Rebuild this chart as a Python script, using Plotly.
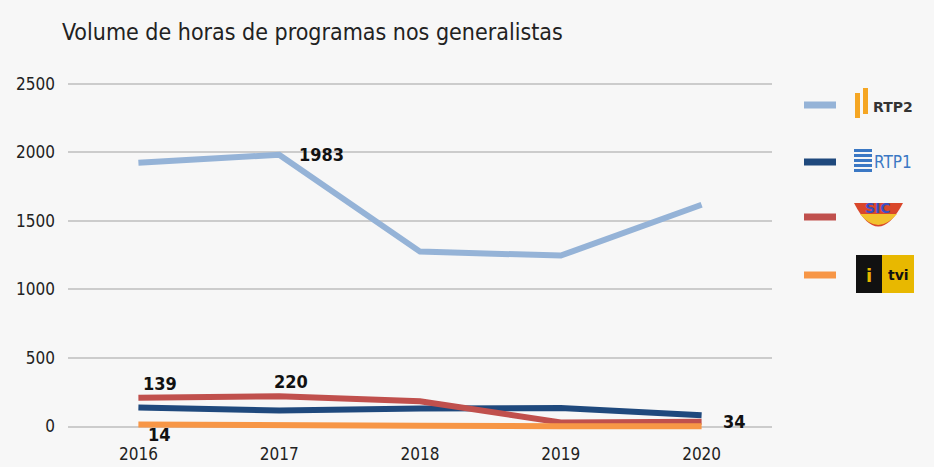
import plotly.graph_objects as go

years = [2016, 2017, 2018, 2019, 2020]
rtp2 = [1925, 1983, 1276, 1247, 1618]
rtp1 = [139, 117, 131, 136, 82]
sic = [210, 220, 184, 30, 34]
tvi = [14, 5, 5, 2, 2]

series_names = ["RTP2", "RTP1", "SIC", "TVI"]
series_values = [rtp2, rtp1, sic, tvi]
colors = ["#95b3d7", "#1f497d", "#c0504d", "#f79646"]

y_ticks = [0, 500, 1000, 1500, 2000, 2500]

FONT = "DejaVu Sans Condensed, Liberation Sans Narrow, Roboto, sans-serif"

W, H = 934, 467
L, R, T, B = 68, 162, 77, 35

fig = go.Figure()
for name, vals, c in zip(series_names, series_values, colors):
    fig.add_trace(go.Scatter(x=years, y=vals, mode="lines", name=name,
                             line=dict(color=c, width=6), showlegend=False,
                             hoverinfo="skip"))

# value labels
labels = [
    (2017, 1983, "1983", 42, 0),
    (2016, 139, "139", 22, 24),
    (2017, 220, "220", 12, 15),
    (2016, 14, "14", 21, -10),
    (2020, 34, "34", 33, 0),
]
for x, y, t, xs, ys in labels:
    fig.add_annotation(x=x, y=y, text="<b>" + t + "</b>", showarrow=False,
                       xshift=xs, yshift=ys,
                       font=dict(family=FONT, size=18, color="#111"))

fig.update_layout(
    width=W, height=H,
    paper_bgcolor="#f7f7f7", plot_bgcolor="#f7f7f7",
    margin=dict(l=L, r=R, t=T, b=B),
    title=dict(text="Volume de horas de programas nos generalistas",
               x=62 / W, xanchor="left", y=1 - 32 / H, yanchor="middle",
               font=dict(family=FONT, size=23, color="#222")),
    xaxis=dict(range=[2015.5, 2020.5], tickvals=years, showgrid=False,
               zeroline=False, showline=False, ticks="", automargin=False,
               ticklabelstandoff=10,
               tickfont=dict(family=FONT, size=17, color="#222")),
    yaxis=dict(range=[-40, 2550], tickvals=y_ticks, showgrid=True,
               gridcolor="#cccccc", gridwidth=1.5, zeroline=False,
               showline=False, ticks="", automargin=False, ticklabelstandoff=12,
               tickfont=dict(family=FONT, size=17, color="#222")),
)


def px_x(px):
    return (px - L) / (W - L - R)


def px_y(py):
    return (H - B - py) / (H - T - B)


leg_y = [105, 162, 217, 275]
for yy, c in zip(leg_y, colors):
    fig.add_shape(type="line", xref="paper", yref="paper",
                  x0=px_x(804), x1=px_x(836), y0=px_y(yy), y1=px_y(yy),
                  line=dict(color=c, width=7))

# logo-like entries
# RTP2
fig.add_shape(type="rect", xref="paper", yref="paper",
              x0=px_x(855), x1=px_x(860), y0=px_y(118), y1=px_y(93),
              fillcolor="#f5a623", line=dict(width=0))
fig.add_shape(type="rect", xref="paper", yref="paper",
              x0=px_x(863), x1=px_x(868), y0=px_y(114), y1=px_y(88),
              fillcolor="#f5a623", line=dict(width=0))
fig.add_annotation(xref="paper", yref="paper", x=px_x(871), y=px_y(107),
                   xanchor="left", yanchor="middle", showarrow=False,
                   text="<b>RTP2</b>", font=dict(family="DejaVu Sans", size=14, color="#333"))
# RTP1
for i in range(5):
    fig.add_shape(type="rect", xref="paper", yref="paper",
                  x0=px_x(854), x1=px_x(872), y0=px_y(149 + i * 5 + 3), y1=px_y(149 + i * 5),
                  fillcolor="#3b78c4", line=dict(width=0))
fig.add_annotation(xref="paper", yref="paper", x=px_x(872), y=px_y(162),
                   xanchor="left", yanchor="middle", showarrow=False,
                   text="RTP1", font=dict(family=FONT, size=17, color="#3b78c4"))
# SIC
fig.add_shape(type="path", xref="paper", yref="paper",
              path="M {a},{b} Q {c},{d} {e},{b} Z".format(
                  a=px_x(854), b=px_y(203), c=px_x(878), d=px_y(250), e=px_x(903)),
              fillcolor="#d9472b", line=dict(width=0))
fig.add_shape(type="path", xref="paper", yref="paper",
              path="M {a},{b} Q {c},{d} {e},{b} Z".format(
                  a=px_x(860), b=px_y(214), c=px_x(878), d=px_y(236), e=px_x(897)),
              fillcolor="#f2c12e", line=dict(width=0))
fig.add_annotation(xref="paper", yref="paper", x=px_x(878), y=px_y(208),
                   xanchor="center", yanchor="middle", showarrow=False,
                   text="<b>SIC</b>", font=dict(family="DejaVu Sans", size=14, color="#3b4fc4"))
# TVI
fig.add_shape(type="rect", xref="paper", yref="paper",
              x0=px_x(856), x1=px_x(914), y0=px_y(293), y1=px_y(255),
              fillcolor="#e8b800", line=dict(width=0))
fig.add_shape(type="rect", xref="paper", yref="paper",
              x0=px_x(856), x1=px_x(882), y0=px_y(293), y1=px_y(255),
              fillcolor="#111111", line=dict(width=0))
fig.add_annotation(xref="paper", yref="paper", x=px_x(898), y=px_y(275),
                   xanchor="center", yanchor="middle", showarrow=False,
                   text="<b>tvi</b>", font=dict(family="DejaVu Sans", size=14, color="#111"))
fig.add_annotation(xref="paper", yref="paper", x=px_x(869), y=px_y(275),
                   xanchor="center", yanchor="middle", showarrow=False,
                   text="<b>i</b>", font=dict(family="DejaVu Sans", size=18, color="#e8b800"))

fig.write_html("out.html", config={"displayModeBar": False},
               post_script="document.body.style.margin='0';document.body.style.background='#f7f7f7';")
